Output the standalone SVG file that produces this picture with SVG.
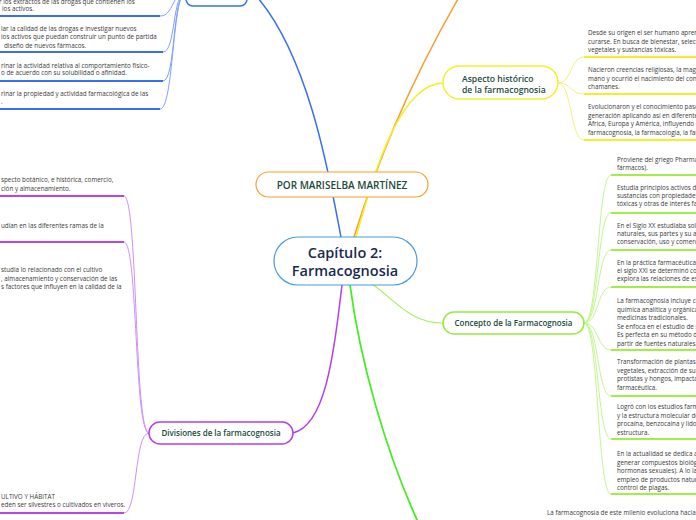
<svg xmlns="http://www.w3.org/2000/svg" width="696" height="520" viewBox="0 0 696 520">
<style>
.leaf{font-family:"Open Sans","Noto Sans",sans-serif;font-size:6.3px;fill:#3a3a3a}
.lbl{font-family:"Open Sans","Noto Sans",sans-serif;font-weight:600;fill:#1b4a3a}
.cb{fill:none;stroke:#7fa3f6;stroke-width:1}
.ub{fill:none;stroke:#3a6ef0;stroke-width:2}
.cy{fill:none;stroke:#f4f07a;stroke-width:1}
.uy{fill:none;stroke:#f2ee2a;stroke-width:2}
.cg{fill:none;stroke:#c4f590;stroke-width:1}
.ug{fill:none;stroke:#a2ee48;stroke-width:2}
.cp{fill:none;stroke:#d090f6;stroke-width:1}
.up{fill:none;stroke:#b445f0;stroke-width:2}
</style>
<rect width="696" height="520" fill="#ffffff"/>
<g id="connectors">
<path d="M341,237 C330,180 310,60 258,-2" fill="none" stroke="#3a6ef0" stroke-width="1.5"/>
<path d="M354,237 C375,170 405,90 462,-8" fill="none" stroke="#f5a030" stroke-width="1.5"/>
<path d="M356,237 C375,170 400,83 444,83" fill="none" stroke="#f3ef20" stroke-width="1.5"/>
<path d="M372,284 C395,300 410,323 443,323" fill="none" stroke="#a8f060" stroke-width="1.2"/>
<path d="M342,285 C333,360 325,425 293,433" fill="none" stroke="#b040f0" stroke-width="1.5"/>
<path d="M350,285 C360,360 385,450 418,522" fill="none" stroke="#44ee22" stroke-width="1.8"/>
<path class="cb" d="M186,-8 C172,-8 174,16 160,16"/>
<path class="cb" d="M186,-8 C172,-8 176,52 163,52"/>
<path class="cb" d="M186,-8 C172,-8 176,81 163,81"/>
<path class="cb" d="M186,-8 C172,-8 174,109 160,109"/>
<path class="ub" d="M-5,16 H160"/>
<path class="ub" d="M-5,52 H163"/>
<path class="ub" d="M-5,81 H163"/>
<path class="ub" d="M-5,109 H160"/>
<path class="cy" d="M558,83 C572,83 570,57 584,57"/>
<path class="cy" d="M558,83 C572,83 570,94 584,94"/>
<path class="cy" d="M558,83 C572,83 570,140 584,140"/>
<path class="uy" d="M584,57 H700"/>
<path class="uy" d="M584,94 H700"/>
<path class="uy" d="M584,140 H700"/>
<path class="cg" d="M584,323 C599,323 597,175 611,175"/>
<path class="cg" d="M584,323 C599,323 597,213 611,213"/>
<path class="cg" d="M584,323 C599,323 597,250 611,250"/>
<path class="cg" d="M584,323 C599,323 597,287 611,287"/>
<path class="cg" d="M584,323 C599,323 597,350 611,350"/>
<path class="cg" d="M584,323 C599,323 597,396 611,396"/>
<path class="cg" d="M584,323 C599,323 597,439 611,439"/>
<path class="cg" d="M584,323 C599,323 597,494 611,494"/>
<path class="ug" d="M611,175 H700"/>
<path class="ug" d="M611,213 H700"/>
<path class="ug" d="M611,250 H700"/>
<path class="ug" d="M611,287 H700"/>
<path class="ug" d="M611,350 H700"/>
<path class="ug" d="M611,396 H700"/>
<path class="ug" d="M611,439 H700"/>
<path class="ug" d="M611,494 H700"/>
<path class="cp" d="M149,433 C134,433 138,196 124,196"/>
<path class="cp" d="M149,433 C134,433 138,242 124,242"/>
<path class="cp" d="M149,433 C134,433 138,513 124,513"/>
<path class="up" d="M-5,196 H124"/>
<path class="up" d="M-5,242 H124"/>
<path class="up" d="M-5,513 H124"/>
</g>
<g id="node-top-blue">
<rect x="186" y="-24" width="61" height="30" rx="7" fill="#ffffff" stroke="#3a6ef0" stroke-width="1.5"/>
</g>
<g id="node-center">
<rect x="274" y="237" width="143" height="48" rx="24" fill="#ffffff" stroke="#4b9bd8" stroke-width="1.2"/>
<text class="lbl" x="345" y="258" text-anchor="middle" font-size="14.5" style="fill:#1a2a4f">Capítulo 2:</text>
<text class="lbl" x="345" y="276" text-anchor="middle" font-size="14.5" style="fill:#1a2a4f">Farmacognosia</text>
</g>
<g id="node-autor">
<rect x="256" y="172" width="172" height="25" rx="12.5" fill="#ffffff" stroke="#f5a030" stroke-width="1.2"/>
<text class="lbl" x="342" y="189" text-anchor="middle" font-size="10">POR MARISELBA MARTÍNEZ</text>
</g>
<g id="node-aspecto">
<rect x="443" y="66" width="115" height="33" rx="16.5" fill="#ffffff" stroke="#f3ef30" stroke-width="1.5"/>
<text class="lbl" x="462" y="82" font-size="8.6">Aspecto histórico</text>
<text class="lbl" x="462" y="93" font-size="8.6">de la farmacognosia</text>
</g>
<g id="node-concepto">
<rect x="443" y="312" width="141" height="22" rx="11" fill="#ffffff" stroke="#96ea3e" stroke-width="1.5"/>
<text class="lbl" x="513.5" y="326" text-anchor="middle" font-size="8">Concepto de la Farmacognosia</text>
</g>
<g id="node-divisiones">
<rect x="149" y="422" width="144" height="22" rx="11" fill="#ffffff" stroke="#b040f0" stroke-width="1.5"/>
<text class="lbl" x="221" y="436" text-anchor="middle" font-size="8">Divisiones de la farmacognosia</text>
</g>
<g id="leaf-blue-1">
<text class="leaf" x="-1" y="4">r los extractos de las drogas que contienen los</text>
<text class="leaf" x="2" y="11">ios activos.</text>
</g>
<g id="leaf-blue-2">
<text class="leaf" x="1" y="31">lar la calidad de las drogas e investigar nuevos</text>
<text class="leaf" x="1" y="39">ios activos que puedan construir un punto de partida</text>
<text class="leaf" x="4" y="48">diseño de nuevos fármacos.</text>
</g>
<g id="leaf-blue-3">
<text class="leaf" x="1" y="68">rinar la actividad relativa al comportamiento físico-</text>
<text class="leaf" x="1" y="75">o de acuerdo con su solubilidad o afinidad.</text>
</g>
<g id="leaf-blue-4">
<text class="leaf" x="1" y="96">rinar la propiedad y actividad farmacológica de las</text>
<text class="leaf" x="1" y="104">.</text>
</g>
<g id="leaf-yellow-1">
<text class="leaf" x="588" y="35">Desde su origen el ser humano aprendió a</text>
<text class="leaf" x="588" y="44">curarse. En busca de bienestar, selección</text>
<text class="leaf" x="588" y="52">vegetales y sustancias tóxicas.</text>
</g>
<g id="leaf-yellow-2">
<text class="leaf" x="588" y="72">Nacieron creencias religiosas, la magia</text>
<text class="leaf" x="588" y="81">mano y ocurrió el nacimiento del conocimiento</text>
<text class="leaf" x="588" y="89">chamanes.</text>
</g>
<g id="leaf-yellow-3">
<text class="leaf" x="588" y="109">Evolucionaron y el conocimiento pasó de</text>
<text class="leaf" x="588" y="118">generación aplicando así en diferentes</text>
<text class="leaf" x="588" y="126">África, Europa y América, influyendo en</text>
<text class="leaf" x="588" y="135">farmacognosia, la farmacología, la farmacia</text>
</g>
<g id="leaf-green-1">
<text class="leaf" x="617" y="162">Proviene del griego Pharmakon</text>
<text class="leaf" x="617" y="170">fármacos).</text>
</g>
<g id="leaf-green-2">
<text class="leaf" x="617" y="190">Estudia principios activos de</text>
<text class="leaf" x="617" y="198">sustancias con propiedades</text>
<text class="leaf" x="617" y="206">tóxicas y otras de interés farmacéutico</text>
</g>
<g id="leaf-green-3">
<text class="leaf" x="617" y="228">En el Siglo XX estudiaba solo</text>
<text class="leaf" x="617" y="236">naturales, sus partes y su aplicación</text>
<text class="leaf" x="617" y="244">conservación, uso y comercialización</text>
</g>
<g id="leaf-green-4">
<text class="leaf" x="617" y="265">En la práctica farmacéutica en</text>
<text class="leaf" x="617" y="273">el siglo XXI se determinó con</text>
<text class="leaf" x="617" y="281">explora las relaciones de estructura</text>
</g>
<g id="leaf-green-5">
<text class="leaf" x="617" y="303">La farmacognosia incluye con</text>
<text class="leaf" x="617" y="311.5">química analítica y orgánica,</text>
<text class="leaf" x="617" y="320">medicinas tradicionales.</text>
<text class="leaf" x="617" y="328.5">Se enfoca en el estudio de sus</text>
<text class="leaf" x="617" y="337">Es perfecta en su método de</text>
<text class="leaf" x="617" y="345.5">partir de fuentes naturales.</text>
</g>
<g id="leaf-green-6">
<text class="leaf" x="617" y="364">Transformación de plantas g</text>
<text class="leaf" x="617" y="372.5">vegetales, extracción de sustancias</text>
<text class="leaf" x="617" y="381">protistas y hongos, impactando</text>
<text class="leaf" x="617" y="389.5">farmacéutica.</text>
</g>
<g id="leaf-green-7">
<text class="leaf" x="617" y="409">Logró con los estudios farmacológicos</text>
<text class="leaf" x="617" y="417.5">y la estructura molecular de</text>
<text class="leaf" x="617" y="426">procaína, benzocaína y lidocaína</text>
<text class="leaf" x="617" y="434.5">estructura.</text>
</g>
<g id="leaf-green-8">
<text class="leaf" x="617" y="456">En la actualidad se dedica a la</text>
<text class="leaf" x="617" y="464.5">generar compuestos biológicos</text>
<text class="leaf" x="617" y="473">hormonas sexuales). A lo largo</text>
<text class="leaf" x="617" y="481.5">empleo de productos naturales</text>
<text class="leaf" x="617" y="490">control de plagas.</text>
</g>
<g id="leaf-green-bottom">
<text class="leaf" x="547" y="515">La farmacognosia de este milenio evoluciona hacia el</text>
</g>
<g id="leaf-purple-1">
<text class="leaf" x="1" y="182">specto botánico, e histórica, comercio,</text>
<text class="leaf" x="1" y="191">ción y almacenamiento.</text>
</g>
<g id="leaf-purple-2">
<text class="leaf" x="1" y="228">udian en las diferentes ramas de la</text>
</g>
<g id="leaf-purple-3">
<text class="leaf" x="1" y="272">studia lo relacionado con el cultivo</text>
<text class="leaf" x="1" y="281">, almacenamiento y conservación de las</text>
<text class="leaf" x="1" y="289">s factores que influyen en la calidad de la</text>
</g>
<g id="leaf-purple-4">
<text class="leaf" x="1" y="499">ULTIVO Y HÁBITAT</text>
<text class="leaf" x="1" y="507">eden ser silvestres o cultivados en viveros.</text>
</g>
</svg>
